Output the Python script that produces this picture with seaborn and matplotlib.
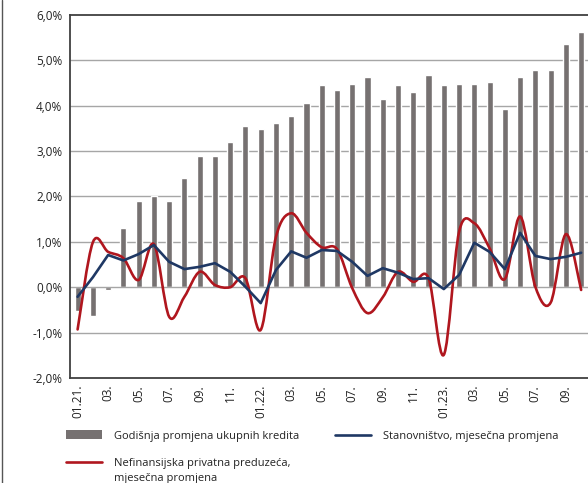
"""
Godišnja promjena kredita i mjesečne promjene po sektorima, 01.21.-10.23.
"""

# %% Imports
import numpy as np
import pandas as pd
import seaborn as sns
from matplotlib import pyplot as plt
from matplotlib.lines import Line2D
from matplotlib.patches import Patch, PathPatch
from matplotlib.path import Path

# %% Data
MONTHS = [
    "01.21.", "02.21.", "03.21.", "04.21.", "05.21.", "06.21.", "07.21.", "08.21.", "09.21.", "10.21.",
    "11.21.", "12.21.", "01.22.", "02.22.", "03.22.", "04.22.", "05.22.", "06.22.", "07.22.", "08.22.",
    "09.22.", "10.22.", "11.22.", "12.22.", "01.23.", "02.23.", "03.23.", "04.23.", "05.23.", "06.23.",
    "07.23.", "08.23.", "09.23.", "10.23.",
]
TICK_LABELS = ["01.21.", "03.", "05.", "07.", "09.", "11.",
               "01.22.", "03.", "05.", "07.", "09.", "11.",
               "01.23.", "03.", "05.", "07.", "09."]

total_loans_yoy = [
    -0.52, -0.63, -0.07, 1.30, 1.89, 2.01, 1.89, 2.40, 2.89, 2.89,
    3.19, 3.56, 3.49, 3.63, 3.78, 4.07, 4.45, 4.34, 4.48, 4.64,
    4.15, 4.45, 4.30, 4.67, 4.45, 4.48, 4.48, 4.53, 3.93, 4.64,
    4.78, 4.78, 5.37, 5.63,
]
households_mom = [
    -0.21, 0.22, 0.71, 0.59, 0.73, 0.93, 0.56, 0.40, 0.45, 0.53,
    0.34, 0.01, -0.35, 0.38, 0.79, 0.65, 0.82, 0.80, 0.56, 0.25,
    0.42, 0.32, 0.18, 0.20, -0.04, 0.27, 0.98, 0.78, 0.40, 1.20,
    0.69, 0.62, 0.67, 0.76,
]
corporates_mom = [
    -0.93, 0.99, 0.78, 0.64, 0.16, 0.95, -0.65, -0.21, 0.34, 0.05,
    0.00, 0.20, -0.94, 1.11, 1.63, 1.20, 0.88, 0.84, -0.02, -0.57,
    -0.22, 0.34, 0.12, 0.20, -1.49, 1.22, 1.41, 0.86, 0.18, 1.56,
    0.01, -0.34, 1.17, -0.06,
]

BAR_COLOR = "#767171"
BLUE = "#1F3864"
RED = "#B0161E"
FS = 8.5


# %% Helpers
def smooth_path(x, y, tension=1 / 6):
    """Excel-style smoothed line: cubic Bezier segments through every point."""
    pts = np.column_stack([np.asarray(x, float), np.asarray(y, float)])
    n = len(pts)
    verts = [pts[0]]
    codes = [Path.MOVETO]
    for i in range(n - 1):
        p0 = pts[max(i - 1, 0)]
        p1 = pts[i]
        p2 = pts[i + 1]
        p3 = pts[min(i + 2, n - 1)]
        verts += [p1 + (p2 - p0) * tension, p2 - (p3 - p1) * tension, p2]
        codes += [Path.CURVE4] * 3
    return Path(verts, codes)


# %% Plot
sns.set_style("white")
plt.rcParams["font.family"] = ["Open Sans", "DejaVu Sans"]

df = pd.DataFrame(
    {
        "month": MONTHS,
        "idx": np.arange(len(MONTHS)),
        "total": total_loans_yoy,
        "households": households_mom,
        "corporates": corporates_mom,
    }
)

fig = plt.figure(figsize=(5.88, 4.83), dpi=100)
ax = fig.add_axes([0.119, 0.2174, 0.881, 0.7516])

for v in np.arange(-1, 6, 1):
    # zero line sits on top of the bars, the rest behind them
    ax.axhline(v, color="#A6A6A6", lw=1.0, zorder=2.5 if v == 0 else 0)

sns.barplot(df, x="month", y="total", order=MONTHS, color=BAR_COLOR, width=0.4,
            saturation=1, ax=ax, zorder=2)
sns.lineplot(df, x="idx", y="households", color=BLUE, lw=1.9, ax=ax, zorder=4)
ax.add_patch(PathPatch(smooth_path(df.idx, df.corporates), fill=False,
                       edgecolor=RED, lw=1.9, zorder=3, capstyle="round", joinstyle="round"))

ax.set_ylim(-2, 6)
ax.set_xlim(-0.5, 33.45)
ax.set_yticks(np.arange(-2, 7, 1))
ax.set_yticklabels([f"{v:.1f}%".replace(".", ",") for v in np.arange(-2, 7, 1)],
                   fontsize=FS, color="#222222")
ax.set_xticks(np.arange(0, len(MONTHS), 2))
ax.set_xticklabels(TICK_LABELS, rotation=90, fontsize=FS, color="#222222")
ax.tick_params(axis="y", length=0, pad=5.5)
ax.tick_params(axis="x", length=0, pad=5)
ax.set_xlabel("")
ax.set_ylabel("")

ax.spines["right"].set_visible(False)
for side in ["top", "left", "bottom"]:
    ax.spines[side].set_color("#404040")
    ax.spines[side].set_linewidth(1.3)

handles = [
    Patch(facecolor=BAR_COLOR, edgecolor="none"),
    Line2D([], [], color=RED, lw=1.9),
    Line2D([], [], color=BLUE, lw=1.9),
]
labels = [
    "Godišnja promjena ukupnih kredita",
    "Nefinansijska privatna preduzeća,",
    "Stanovništvo, mjesečna promjena",
]
leg = fig.legend(handles, labels, loc="upper left", bbox_to_anchor=(0.105, 0.118), ncol=2,
                 frameon=False, fontsize=8, handlelength=3.2, handleheight=0.8,
                 columnspacing=3.26, labelspacing=1.5, handletextpad=1.1, borderaxespad=0)
for t in leg.get_texts():
    t.set_color("#222222")

# second line of the red entry, placed under its first line
fig.canvas.draw()
bb = leg.get_texts()[1].get_window_extent().transformed(fig.transFigure.inverted())
fig.text(bb.x0, bb.y0 - 0.008, "mjesečna promjena", fontsize=8, color="#222222", va="top", ha="left")

fig.add_artist(Line2D([0.004, 0.004], [0, 1], transform=fig.transFigure, color="#555555", lw=1.0))

fig.savefig("out.png", dpi=100)
